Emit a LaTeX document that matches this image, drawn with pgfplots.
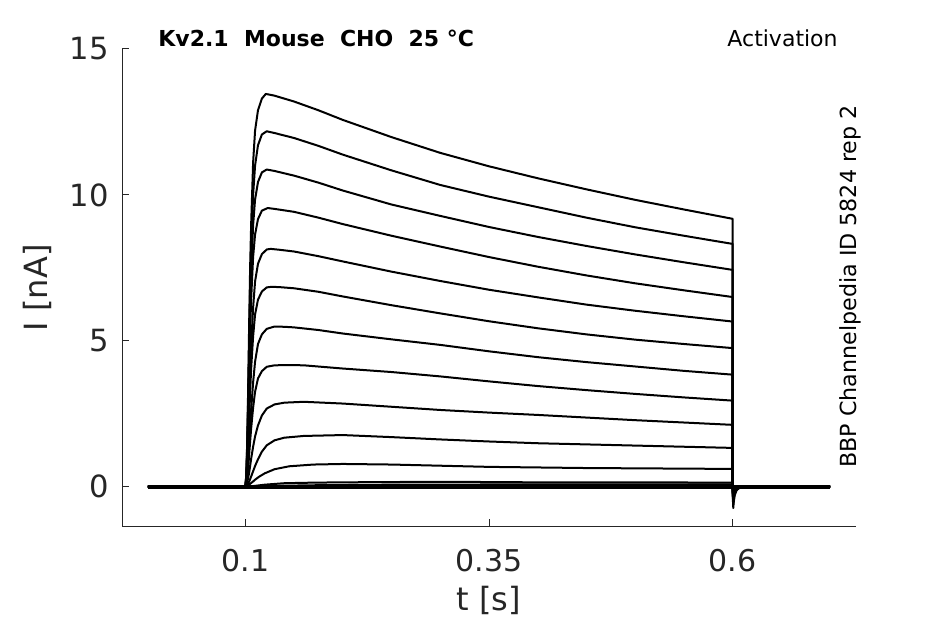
\documentclass[border=0pt]{standalone}
\usepackage{fontspec}
\setmainfont{DejaVu Sans}
\usepackage{pgfplots}
\pgfplotsset{compat=1.18}
\definecolor{tickgray}{RGB}{38,38,38}
\pgfplotsset{tr/.style={black, line width=1pt, line join=round, mark=none}}
\begin{document}
\begin{tikzpicture}
\path[use as bounding box] (-61pt,-48.65pt) rectangle (411.5pt,263.35pt);
\begin{axis}[
  scale only axis, width=367pt, height=238.85pt,
  at={(0,0)}, anchor=south west,
  xmin=-0.0265, xmax=0.7265, ymin=-1.37, ymax=15,
  axis x line=bottom, axis y line=left,
  axis line style={-, tickgray, line width=0.5pt},
  tick style={tickgray, line width=0.5pt},
  tick align=inside, major tick length=3.7pt,
  xtick={0.1,0.35,0.6}, xticklabels={0.1,0.35,0.6},
  ytick={0,5,10,15},
  /pgf/number format/assume math mode=true,
  xticklabel style={font=\fontsize{15}{18}\selectfont, text=tickgray, yshift=-7.5pt},
  yticklabel style={font=\fontsize{15.3}{18}\selectfont, text=tickgray, xshift=-3pt},
  xlabel={t [s]}, ylabel={I [nA]},
  xlabel style={font=\fontsize{16}{19}\selectfont, text=tickgray, at={(rel axis cs:0.5,0)}, anchor=center, yshift=-36.8pt},
  ylabel style={font=\fontsize{16}{19}\selectfont, text=tickgray, at={(rel axis cs:0,0.5)}, anchor=center, yshift=42.3pt},
  clip=false,
]
% baseline (several overlapping traces)
\addplot[black, line width=1.9pt] coordinates {(0,0) (0.7,0)};
% trace 1
\addplot[tr] coordinates {(0,0) (0.1,0) (0.101,0.4) (0.102,1.6) (0.103,3.5) (0.104,5.7) (0.105,7.6) (0.106,9.0) (0.108,11.1) (0.110,12.2) (0.113,12.9) (0.117,13.3) (0.121,13.46) (0.13,13.4) (0.15,13.2) (0.175,12.9) (0.2,12.57) (0.25,11.98) (0.3,11.44) (0.35,10.98) (0.4,10.57) (0.45,10.19) (0.5,9.83) (0.55,9.5) (0.6,9.18) (0.6,-0.3) (0.6006,-0.73) (0.601,-0.55) (0.602,-0.3) (0.604,-0.12) (0.607,-0.04) (0.612,0) (0.7,0)};
% trace 2
\addplot[tr] coordinates {(0,0) (0.1,0) (0.101,0.37) (0.102,1.47) (0.103,3.2) (0.104,5.1) (0.105,6.9) (0.106,8.2) (0.108,10.0) (0.110,11.0) (0.113,11.7) (0.117,12.07) (0.122,12.18) (0.13,12.12) (0.15,11.95) (0.175,11.68) (0.2,11.38) (0.25,10.84) (0.3,10.34) (0.35,9.94) (0.4,9.58) (0.45,9.22) (0.5,8.89) (0.55,8.6) (0.6,8.32) (0.6,-0.2) (0.6006,-0.6) (0.601,-0.45) (0.602,-0.25) (0.604,-0.1) (0.607,-0.03) (0.612,0) (0.7,0)};
% trace 3
\addplot[tr] coordinates {(0,0) (0.1,0) (0.101,0.33) (0.102,1.31) (0.103,2.84) (0.104,4.6) (0.105,6.1) (0.106,7.3) (0.108,8.96) (0.110,9.84) (0.113,10.44) (0.117,10.77) (0.122,10.87) (0.13,10.82) (0.15,10.66) (0.175,10.42) (0.2,10.15) (0.25,9.67) (0.3,9.28) (0.35,8.9) (0.4,8.56) (0.45,8.25) (0.5,7.96) (0.55,7.69) (0.6,7.43) (0.6,-0.2) (0.6006,-0.5) (0.601,-0.38) (0.602,-0.2) (0.604,-0.08) (0.607,-0.02) (0.612,0) (0.7,0)};
% trace 4
\addplot[tr] coordinates {(0,0) (0.1,0) (0.101,0.29) (0.102,1.15) (0.103,2.5) (0.104,4.03) (0.105,5.38) (0.106,6.43) (0.108,7.87) (0.110,8.64) (0.113,9.17) (0.117,9.46) (0.123,9.55) (0.13,9.52) (0.15,9.42) (0.175,9.22) (0.2,9.0) (0.25,8.6) (0.3,8.23) (0.35,7.87) (0.4,7.54) (0.45,7.24) (0.5,6.97) (0.55,6.73) (0.6,6.5) (0.6,-0.15) (0.6006,-0.42) (0.601,-0.3) (0.602,-0.16) (0.604,-0.06) (0.607,-0.02) (0.612,0) (0.7,0)};
% trace 5
\addplot[tr] coordinates {(0,0) (0.1,0) (0.101,0.16) (0.102,0.74) (0.103,1.72) (0.104,2.86) (0.105,3.92) (0.106,4.82) (0.108,6.13) (0.110,7.03) (0.113,7.64) (0.117,7.97) (0.122,8.13) (0.126,8.15) (0.135,8.12) (0.15,8.06) (0.175,7.9) (0.2,7.72) (0.25,7.37) (0.3,7.05) (0.35,6.75) (0.4,6.49) (0.45,6.24) (0.5,6.03) (0.55,5.84) (0.6,5.66) (0.6,-0.1) (0.6006,-0.34) (0.601,-0.25) (0.602,-0.12) (0.604,-0.05) (0.608,0) (0.7,0)};
% trace 6
\addplot[tr] coordinates {(0,0) (0.1,0) (0.101,0.14) (0.102,0.62) (0.103,1.44) (0.104,2.4) (0.105,3.29) (0.106,4.05) (0.108,5.15) (0.110,5.9) (0.113,6.41) (0.117,6.69) (0.122,6.83) (0.127,6.85) (0.135,6.84) (0.15,6.8) (0.175,6.68) (0.2,6.52) (0.25,6.22) (0.3,5.94) (0.35,5.67) (0.4,5.43) (0.45,5.22) (0.5,5.04) (0.55,4.89) (0.6,4.75) (0.6,-0.08) (0.6006,-0.27) (0.601,-0.2) (0.602,-0.1) (0.604,-0.04) (0.608,0) (0.7,0)};
% trace 7
\addplot[tr] coordinates {(0,0) (0.1,0) (0.101,0.08) (0.102,0.38) (0.103,0.88) (0.104,1.48) (0.105,2.09) (0.106,2.64) (0.108,3.57) (0.110,4.28) (0.113,4.89) (0.117,5.22) (0.122,5.41) (0.13,5.49) (0.14,5.48) (0.15,5.46) (0.175,5.37) (0.2,5.25) (0.25,5.05) (0.3,4.86) (0.35,4.64) (0.4,4.44) (0.45,4.27) (0.5,4.12) (0.55,3.97) (0.6,3.84) (0.6,-0.06) (0.6006,-0.2) (0.601,-0.14) (0.602,-0.07) (0.604,-0.03) (0.608,0) (0.7,0)};
% trace 8
\addplot[tr] coordinates {(0,0) (0.1,0) (0.101,0.06) (0.102,0.29) (0.103,0.67) (0.104,1.13) (0.105,1.58) (0.106,2.0) (0.108,2.71) (0.110,3.25) (0.113,3.71) (0.117,3.96) (0.122,4.11) (0.13,4.16) (0.145,4.17) (0.16,4.16) (0.2,4.05) (0.25,3.93) (0.3,3.78) (0.35,3.61) (0.4,3.45) (0.45,3.31) (0.5,3.18) (0.55,3.06) (0.6,2.95) (0.6,-0.04) (0.6006,-0.14) (0.601,-0.1) (0.602,-0.05) (0.605,0) (0.7,0)};
% trace 9
\addplot[tr] coordinates {(0,0) (0.1,0) (0.102,0.15) (0.104,0.49) (0.106,0.96) (0.108,1.37) (0.11,1.72) (0.113,2.1) (0.117,2.44) (0.122,2.68) (0.13,2.82) (0.14,2.88) (0.16,2.91) (0.2,2.85) (0.25,2.74) (0.3,2.63) (0.35,2.54) (0.4,2.46) (0.45,2.37) (0.5,2.28) (0.55,2.2) (0.6,2.12) (0.6,-0.03) (0.6006,-0.09) (0.602,-0.03) (0.605,0) (0.7,0)};
% trace 10
\addplot[tr] coordinates {(0,0) (0.1,0) (0.102,0.05) (0.104,0.18) (0.106,0.35) (0.108,0.53) (0.11,0.71) (0.113,0.94) (0.117,1.2) (0.122,1.42) (0.13,1.59) (0.14,1.68) (0.16,1.74) (0.2,1.77) (0.25,1.7) (0.3,1.62) (0.35,1.55) (0.4,1.49) (0.45,1.45) (0.5,1.41) (0.55,1.37) (0.6,1.33) (0.6,-0.02) (0.6006,-0.05) (0.603,0) (0.7,0)};
% trace 11
\addplot[tr] coordinates {(0,0) (0.1,0) (0.102,0.03) (0.105,0.1) (0.108,0.18) (0.11,0.24) (0.114,0.34) (0.12,0.46) (0.13,0.6) (0.145,0.7) (0.17,0.76) (0.2,0.78) (0.25,0.76) (0.3,0.72) (0.35,0.68) (0.4,0.66) (0.45,0.64) (0.5,0.63) (0.55,0.62) (0.6,0.61) (0.6,0) (0.7,0)};
% trace 12
\addplot[tr] coordinates {(0,0) (0.1,0) (0.105,0.01) (0.11,0.03) (0.12,0.07) (0.14,0.12) (0.17,0.14) (0.2,0.15) (0.3,0.17) (0.4,0.15) (0.5,0.15) (0.6,0.14) (0.6,0) (0.7,0)};
% trace 13
\addplot[tr] coordinates {(0,0) (0.1,0) (0.11,0.01) (0.13,0.03) (0.17,0.05) (0.25,0.07) (0.4,0.08) (0.6,0.08) (0.6,0) (0.7,0)};
\node[anchor=base west, inner sep=0pt, font=\fontsize{11}{13}\selectfont\bfseries] at (rel axis cs:0.049,1.0048) {Kv2.1~~Mouse~~CHO~~25~°C};
\node[anchor=base east, inner sep=0pt, font=\fontsize{11}{13}\selectfont] at (rel axis cs:0.9755,1.0048) {Activation};
\node[anchor=base, rotate=90, inner sep=0pt, font=\fontsize{11.1}{13}\selectfont] at (rel axis cs:1.0,0.503) {BBP Channelpedia ID 5824 rep 2};
\end{axis}
\end{tikzpicture}
\end{document}
